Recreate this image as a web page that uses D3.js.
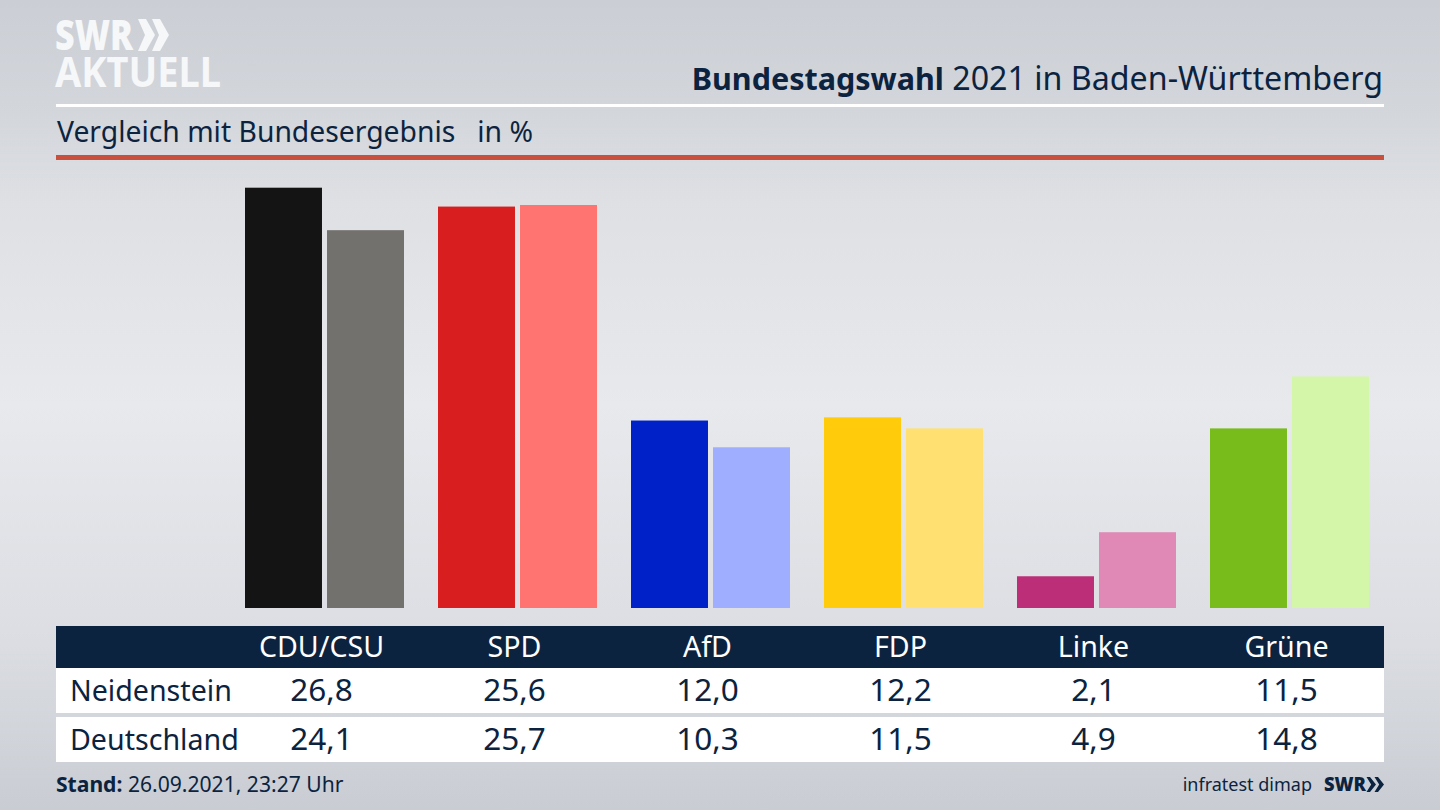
<!DOCTYPE html>
<html lang="de"><head><meta charset="utf-8">
<script src="https://cdn.jsdelivr.net/npm/d3@7"></script>
<style>html,body{margin:0;padding:0;background:#d5d8dd;overflow:hidden}svg{display:block}text{font-family:"Noto Sans",sans-serif}</style>
</head><body><svg id="c" width="1440" height="810"></svg>
<script>
const parties=["CDU/CSU","SPD","AfD","FDP","Linke","Grüne"];
const regions=["Neidenstein","Deutschland"];
const neidenstein=[26.8,25.6,12.0,12.2,2.1,11.5];
const deutschland=[24.1,25.7,10.3,11.5,4.9,14.8];
const colorsA=["#141414","#d81e1e","#0020c8","#ffcb0a","#bd2e78","#78bc1c"];
const colorsB=["#73716e","#ff7370","#a0aeff","#ffe070","#e088b6","#d4f6a8"];
const ink="#0c2340";
const fmt=v=>v.toFixed(1).replace(".",",");

const svg=d3.select("#c");
const defs=svg.append("defs");
const g=defs.append("linearGradient").attr("id","bg").attr("x1",0).attr("y1",0).attr("x2",0).attr("y2",1);
[[0,"#cbcfd5"],[.14,"#d3d6db"],[.25,"#dee0e4"],[.5,"#e8e9ed"],[.78,"#dcdee3"],[1,"#c9cdd3"]].forEach(s=>g.append("stop").attr("offset",s[0]).attr("stop-color",s[1]));
svg.append("rect").attr("width",1440).attr("height",810).attr("fill","url(#bg)");

// logo
const white="#f6f7f8";
const chev=(x,y,w,h,t,fill)=>svg.append("path").attr("fill",fill).attr("d",`M${x} ${y}h${t}l${w} ${h/2}l${-w} ${h/2}h${-t}l${w*.78} ${-h/2}z`);
const logo=svg.append("text").attr("fill",white).attr("font-weight",900);
logo.append("tspan").attr("x",55).attr("y",50).attr("font-size",42).attr("textLength",78).attr("lengthAdjust","spacingAndGlyphs").text("SWR");
logo.append("tspan").attr("x",55).attr("y",87).attr("font-size",41).attr("font-weight",700).attr("textLength",166).attr("lengthAdjust","spacingAndGlyphs").text("AKTUELL");
chev(138,19,9,32,8,white);chev(152,19,9,32,8,white);

// header
const title=svg.append("text").attr("x",1383).attr("y",90).attr("text-anchor","end").attr("fill",ink);
title.append("tspan").attr("font-weight",700).attr("font-size",30.5).text("Bundestagswahl");
title.append("tspan").attr("font-size",32.2).text(" 2021 in Baden-Württemberg");
svg.append("rect").attr("x",56).attr("y",104).attr("width",1328).attr("height",3).attr("fill","#fff");
svg.append("text").attr("x",57).attr("y",142).attr("font-size",28.3).attr("fill",ink).style("white-space","pre").text("Vergleich mit Bundesergebnis   in %");
svg.append("rect").attr("x",56).attr("y",155).attr("width",1328).attr("height",5).attr("fill","#c9503c");

// bars
const x=d3.scaleBand().domain(parties).range([228,1386]).paddingInner(34/193).paddingOuter(17/193);
const sub=d3.scaleBand().domain(regions).range([0,x.bandwidth()]).paddingInner(5/81.5);
const y=d3.scaleLinear().domain([0,26.8]).range([609.3,187.7]);
const baseline=608;
const series=[neidenstein,deutschland],cols=[colorsA,colorsB];
regions.forEach((r,ri)=>{
  svg.append("g").selectAll("rect").data(series[ri]).join("rect")
   .attr("x",(d,i)=>x(parties[i])+sub(r))
   .attr("y",d=>y(d)).attr("width",sub.bandwidth()).attr("height",d=>baseline-y(d))
   .attr("fill",(d,i)=>cols[ri][i]);
});

// table
svg.append("rect").attr("x",56).attr("y",626).attr("width",1328).attr("height",42).attr("fill","#0c2340");
svg.append("rect").attr("x",56).attr("y",668).attr("width",1328).attr("height",45).attr("fill","#fff");
svg.append("rect").attr("x",56).attr("y",717).attr("width",1328).attr("height",45).attr("fill","#fff");
const cx=p=>x(p)+x.bandwidth()/2-3;
svg.append("g").selectAll("text").data(parties).join("text").attr("x",cx).attr("y",657).attr("text-anchor","middle").attr("font-size",28.6).attr("fill","#fff").text(d=>d);
const rowY=[701,750];
regions.forEach((r,ri)=>{
  svg.append("text").attr("x",70).attr("y",rowY[ri]).attr("font-size",28.6).attr("fill",ink).text(r);
  svg.append("g").selectAll("text").data(series[ri]).join("text").attr("x",(d,i)=>cx(parties[i])).attr("y",rowY[ri]).attr("text-anchor","middle").attr("font-size",31.5).attr("fill",ink).text(fmt);
});

// footer
const st=svg.append("text").attr("x",56).attr("y",792).attr("font-size",21.1).attr("fill",ink);
st.append("tspan").attr("font-weight",700).text("Stand:");
st.append("tspan").text(" 26.09.2021, 23:27 Uhr");
svg.append("text").attr("x",1312).attr("y",791).attr("text-anchor","end").attr("font-size",18).attr("fill",ink).text("infratest dimap");
svg.append("text").attr("x",1324).attr("y",791).attr("font-size",20).attr("font-weight",900).attr("fill",ink).attr("textLength",42).attr("lengthAdjust","spacingAndGlyphs").text("SWR");
chev(1366.5,777,6,15,3.5,ink);chev(1374.5,777,6,15,3.5,ink);
</script></body></html>
